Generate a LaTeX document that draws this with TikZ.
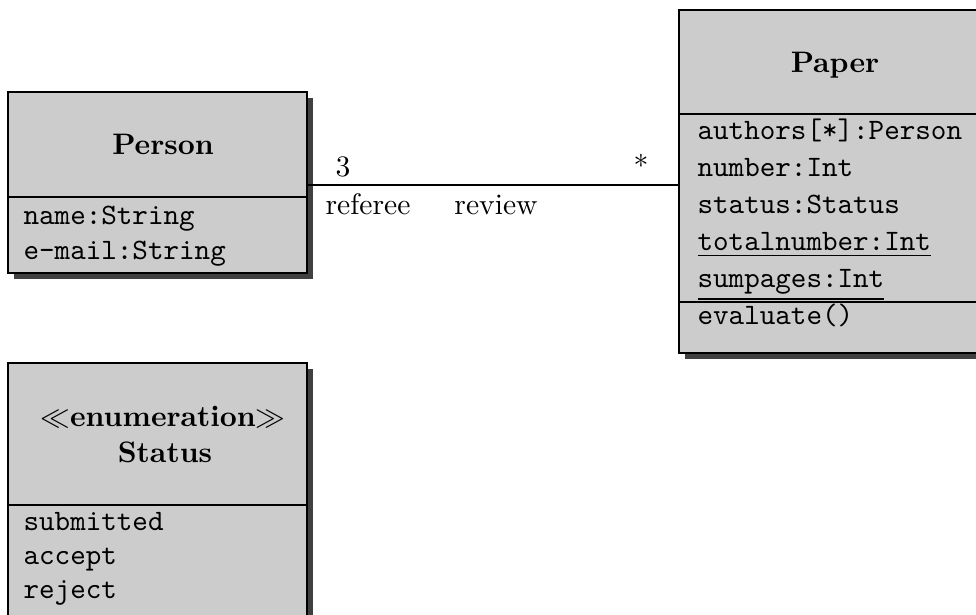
\documentclass[tikz,border=0pt]{standalone}
\usetikzlibrary{shadows}
\definecolor{boxgray}{RGB}{204,204,204}
\definecolor{shadegray}{RGB}{64,64,64}
\def\u{0.3375pt}
\tikzset{
  umlclass/.style={rectangle, draw=black, line width=0.7pt, fill=boxgray,
    inner sep=0pt, outer sep=0pt,
    drop shadow={shadow xshift=6*\u, shadow yshift=-6*\u, fill=shadegray, opacity=1}},
  divider/.style={line width=0.7pt},
  classname/.style={anchor=base, inner sep=0pt, font=\bfseries},
  attr/.style={anchor=base west, inner sep=0pt, font=\ttfamily},
  assoclabel/.style={anchor=base, inner sep=0pt},
  assoc/.style={line width=0.7pt}
}
\begin{document}
\begin{tikzpicture}[x=\u, y=-\u]
  \useasboundingbox (0,0) rectangle (976,615);
  \fill[white] (0,0) rectangle (976,615);
  \clip (0,0) rectangle (976,615);

  % class Person
  \node[umlclass, minimum width=299*\u, minimum height=181*\u] (person) at (157.5,182.5) {};
  \draw[divider] (person.west |- 0,197) -- (person.east |- 0,197);
  \node[classname] (personname) at (163,155) {Person};
  \node[attr] (pname) at (23,225) {name:String};
  \node[attr] (pmail) at (23,260) {e-mail:String};

  % class Paper
  \node[umlclass, minimum width=302*\u, minimum height=343*\u] (paper) at (830,181.5) {};
  \draw[divider] (paper.west |- 0,114) -- (paper.east |- 0,114);
  \draw[divider] (paper.west |- 0,302) -- (paper.east |- 0,302);
  \node[classname] (papername) at (835,73) {Paper};
  \node[attr] (pauthors) at (697,140) {authors[*]:Person};
  \node[attr] (pnumber) at (697,177) {number:Int};
  \node[attr] (pstatus) at (697,214) {status:Status};
  \node[attr] (ptotal) at (697,251) {\underline{totalnumber:Int}};
  \node[attr] (psum) at (697,288) {\underline{sumpages:Int}};
  \node[attr] (peval) at (697,325) {evaluate()};

  % enumeration Status
  \node[umlclass, minimum width=299*\u, minimum height=262*\u] (status) at (157.5,494) {};
  \draw[divider] (status.west |- 0,505) -- (status.east |- 0,505);
  \node[classname] (stereo) at (163,426) {$\ll$enumeration$\gg$};
  \node[classname] (statusname) at (165,462) {Status};
  \node[attr] (ssub) at (23,530) {submitted};
  \node[attr] (sacc) at (23,564) {accept};
  \node[attr] (srej) at (23,598) {reject};

  % association review
  \coordinate (refEnd) at (person.east |- 0,185);
  \coordinate (revEnd) at (paper.west |- 0,185);
  \draw[assoc] (refEnd) -- (revEnd);
  \node[assoclabel] (mult3) at (343,177) {3};
  \node[assoclabel] (multstar) at (641,177) {*};
  \node[assoclabel] (rolereferee) at (368,215) {referee};
  \node[assoclabel] (assocname) at (496,215) {review};
\end{tikzpicture}
\end{document}
